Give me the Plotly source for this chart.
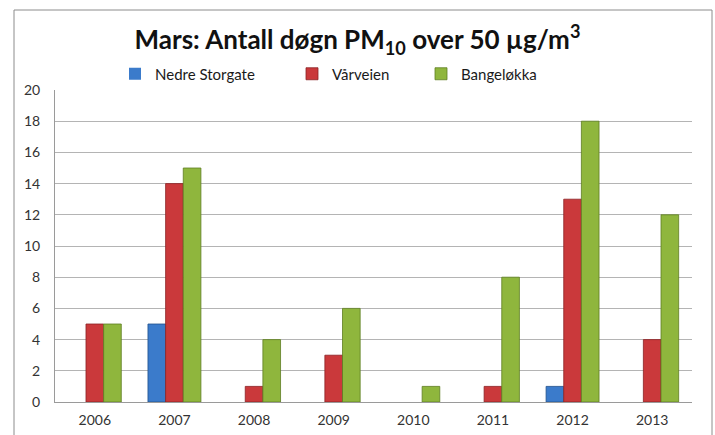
import plotly.graph_objects as go

years = ["2006", "2007", "2008", "2009", "2010", "2011", "2012", "2013"]
nedre_storgate = [0, 5, 0, 0, 0, 0, 1, 0]
varveien = [5, 14, 1, 3, 0, 1, 13, 4]
bangelokka = [5, 15, 4, 6, 1, 8, 18, 12]
series_names = ["Nedre Storgate", "Vårveien", "Bangeløkka"]
y_ticks = [0, 2, 4, 6, 8, 10, 12, 14, 16, 18, 20]

fills = ["#3B7BCB", "#CA393B", "#8FB63D"]
edges = ["#22508A", "#8A2224", "#5E7D22"]
legend_ids = ["legend", "legend2", "legend3"]

FONT = "Lato, 'Open Sans', sans-serif"

fig = go.Figure()
for name, vals, fc, ec, lg in zip(series_names, [nedre_storgate, varveien, bangelokka],
                                 fills, edges, legend_ids):
    fig.add_trace(go.Bar(
        x=years, y=vals, name=name, legend=lg, showlegend=True,
        marker=dict(color=fc, line=dict(color=ec, width=[0.8 if v else 0 for v in vals])),
    ))

L, R, T, B = 55, 23, 90, 33
W, H = 715, 435
pw, ph = W - L - R, H - T - B

def px_x(p):
    return (p - L) / pw

def px_y(p):
    return (H - B - p) / ph

leg_common = dict(orientation="h", yanchor="middle", xanchor="left",
                  xref="container", yref="container",
                  font=dict(family=FONT, size=15, color="#1a1a1a"),
                  bgcolor="rgba(0,0,0,0)", borderwidth=0)

fig.update_layout(
    width=W, height=H,
    margin=dict(l=L, r=R, t=T, b=B, autoexpand=False),
    paper_bgcolor="white", plot_bgcolor="white",
    showlegend=True,
    barmode="group", bargap=0.335, bargroupgap=0,
    title=dict(
        text="<b>Mars: Antall døgn PM<sub>10</sub> over 50 µg/m<sup>3</sup></b>",
        x=0.5, xanchor="center", y=1 - 40 / H, yanchor="middle",
        font=dict(family=FONT, size=26, color="#111111"),
    ),
    legend=dict(x=115 / W, y=1 - 74 / H, **leg_common),
    legend2=dict(x=292 / W, y=1 - 74 / H, **leg_common),
    legend3=dict(x=421 / W, y=1 - 74 / H, **leg_common),
    xaxis=dict(
        type="category", showgrid=False, showline=True, linecolor="#9a9a9a",
        linewidth=1, ticks="", tickfont=dict(family=FONT, size=14, color="#333333"),
        ticklabelstandoff=5,
    ),
    yaxis=dict(
        range=[0, 20], tickvals=y_ticks, showgrid=True, gridcolor="#b4b4b4",
        gridwidth=1, showline=True, linecolor="#9a9a9a", linewidth=1,
        zeroline=False, ticks="", tickfont=dict(family=FONT, size=14, color="#333333"),
        ticklabelstandoff=11,
    ),
    shapes=[dict(type="rect", xref="paper", yref="paper",
                 x0=px_x(14), x1=px_x(712), y0=px_y(445), y1=px_y(10),
                 line=dict(color="#8c8c8c", width=1), fillcolor="rgba(0,0,0,0)",
                 layer="below")],
)

fig.write_html("out.html", config={"displayModeBar": False},
               post_script="document.body.style.margin='0';")
